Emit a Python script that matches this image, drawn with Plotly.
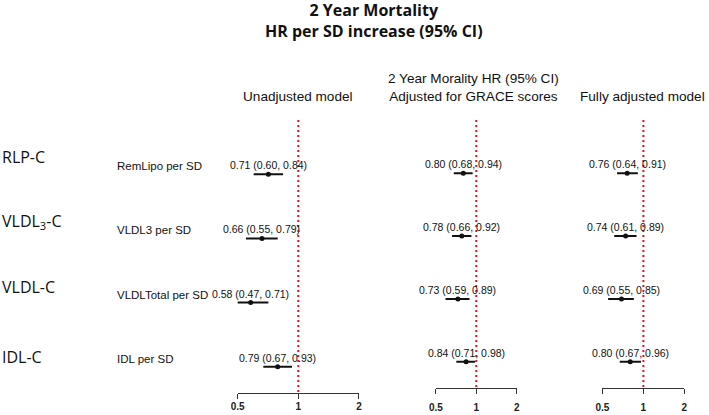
import numpy as np
import plotly.graph_objects as go

# ---------------- data ----------------
title_lines = ["2 Year Mortality", "HR per SD increase (95% CI)"]
group_labels = ["RLP-C", "VLDL<sub>3</sub>-C", "VLDL-C", "IDL-C"]
row_labels = ["RemLipo per SD", "VLDL3 per SD", "VLDLTotal per SD", "IDL per SD"]
panel_titles = ["Unadjusted model",
                "2 Year Morality HR (95% CI)<br>Adjusted for GRACE scores",
                "Fully adjusted model"]

unadj_hr = [0.71, 0.66, 0.58, 0.79]
unadj_lo = [0.60, 0.55, 0.47, 0.67]
unadj_hi = [0.84, 0.79, 0.71, 0.93]

grace_hr = [0.80, 0.78, 0.73, 0.84]
grace_lo = [0.68, 0.66, 0.59, 0.71]
grace_hi = [0.94, 0.92, 0.89, 0.98]

full_hr = [0.76, 0.74, 0.69, 0.80]
full_lo = [0.64, 0.61, 0.55, 0.67]
full_hi = [0.91, 0.89, 0.85, 0.96]

tick_vals = [0.5, 1, 2]
tick_text = ["0.5", "1", "2"]
ref_value = 1

# ---------------- layout (pixels) ----------------
W, H = 709, 415
panels = [
    dict(hr=unadj_hr, lo=unadj_lo, hi=unadj_hi, x0=234, x1=357, top=120, axis=393,
         r0=174.3, r3=366.7, standoff=-1, title_x=295),
    dict(hr=grace_hr, lo=grace_lo, hi=grace_hi, x0=435, x1=517, top=120, axis=388,
         r0=173.3, r3=361.7, standoff=5, title_x=473),
    dict(hr=full_hr, lo=full_lo, hi=full_hi, x0=604, x1=687, top=120, axis=388,
         r0=173.3, r3=361.7, standoff=5, title_x=645),
]
group_label_px = [157, 221, 287, 357]
group_label_x = -7
sub_label_x = 110
header_y = 98

def px_x(p):
    return p / W

def px_y(p):
    return 1 - p / H

fig = go.Figure()
annotations = []
nrows = len(row_labels)
rows = list(range(nrows))

for i, p in enumerate(panels):
    sfx = "" if i == 0 else str(i + 1)
    xa, ya = "x" + sfx, "y" + sfx
    spacing = (p["r3"] - p["r0"]) / (nrows - 1)
    y_top = -(p["r0"] - p["top"]) / spacing
    y_bot = (nrows - 1) + (p["axis"] - p["r3"]) / spacing

    hr = np.array(p["hr"])
    lo = np.array(p["lo"])
    hi = np.array(p["hi"])

    # reference line
    fig.add_trace(go.Scatter(
        x=[ref_value, ref_value], y=[y_top, y_bot], mode="lines",
        line=dict(color="#e8101a", width=2, dash="2px,3px"),
        xaxis=xa, yaxis=ya, showlegend=False, hoverinfo="skip"))

    # CIs and point estimates
    fig.add_trace(go.Scatter(
        x=hr, y=rows, mode="markers",
        marker=dict(color="#111111", size=5),
        error_x=dict(type="data", symmetric=False, array=hi - hr, arrayminus=hr - lo,
                     color="#111111", thickness=2, width=0),
        cliponaxis=False, xaxis=xa, yaxis=ya, showlegend=False))

    for r in rows:
        annotations.append(dict(
            x=np.log10(hr[r]), y=r, xref=xa, yref=ya, yshift=9,
            text=f"{hr[r]:.2f} ({lo[r]:.2f}, {hi[r]:.2f})", showarrow=False,
            xanchor="center", yanchor="middle",
            font=dict(family="Liberation Sans, Arial", size=10.5, color="#111111")))

    axis_key = "xaxis" if i == 0 else f"xaxis{i+1}"
    yaxis_key = "yaxis" if i == 0 else f"yaxis{i+1}"
    fig.update_layout(**{
        axis_key: dict(type="log", range=[np.log10(tick_vals[0]), np.log10(tick_vals[-1])],
                       domain=[px_x(p["x0"]), px_x(p["x1"])], anchor=ya,
                       tickvals=tick_vals, ticktext=tick_text, ticks="outside",
                       ticklen=5, tickwidth=1, tickcolor="#333333",
                       showline=True, linecolor="#333333", linewidth=1,
                       showgrid=False, zeroline=False, ticklabelstandoff=p["standoff"],
                       tickfont=dict(family="Liberation Sans, Arial", size=10,
                                     color="#222222", weight="bold")),
        yaxis_key: dict(range=[y_bot, y_top], domain=[px_y(p["axis"]), px_y(p["top"])],
                        anchor=xa, visible=False, showgrid=False, zeroline=False),
    })

    # panel header
    annotations.append(dict(
        x=px_x(p["title_x"]), y=px_y(header_y), xref="paper", yref="paper",
        text=panel_titles[i], showarrow=False, xanchor="center", yanchor="bottom",
        yshift=-8,
        font=dict(family="Liberation Sans, Arial", size=13.6, color="#111111")))

# row sub labels (aligned with panel-1 rows)
for r in rows:
    annotations.append(dict(
        x=px_x(sub_label_x), y=r, xref="paper", yref="y", yshift=8,
        text=row_labels[r], showarrow=False, xanchor="left", yanchor="middle",
        font=dict(family="Liberation Sans, Arial", size=11.5, color="#111111")))

# group labels
for r in rows:
    annotations.append(dict(
        x=px_x(group_label_x), y=px_y(group_label_px[r]), xref="paper", yref="paper",
        text=group_labels[r], showarrow=False, xanchor="left", yanchor="middle",
        font=dict(family="Open Sans", size=16, color="#111111")))

# title
annotations.append(dict(
    x=px_x(372), y=px_y(20), xref="paper", yref="paper",
    text="<br>".join(title_lines), showarrow=False, xanchor="center", yanchor="middle",
    font=dict(family="Open Sans", size=16, color="#111111", weight="bold")))

fig.update_layout(
    width=W, height=H, margin=dict(l=0, r=0, t=0, b=0),
    paper_bgcolor="white", plot_bgcolor="white",
    annotations=annotations, showlegend=False)

fig.write_html("out.html", config={"displayModeBar": False},
               post_script="document.body.style.margin='0';document.body.style.overflow='hidden';")
